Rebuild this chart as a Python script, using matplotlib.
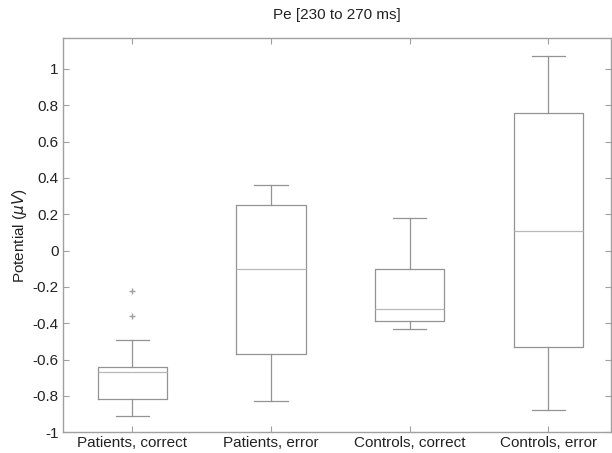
import matplotlib
matplotlib.use("Agg")
import matplotlib.pyplot as plt

categories = ["Patients, correct", "Patients, error", "Controls, correct", "Controls, error"]
whislo = [-0.91, -0.83, -0.43, -0.88]
q1 = [-0.82, -0.57, -0.39, -0.53]
med = [-0.67, -0.10, -0.32, 0.11]
q3 = [-0.64, 0.25, -0.10, 0.76]
whishi = [-0.49, 0.36, 0.18, 1.07]
fliers = [[-0.22, -0.36], [], [], []]
yticks = [-1, -0.8, -0.6, -0.4, -0.2, 0, 0.2, 0.4, 0.6, 0.8, 1]

plt.rcParams['font.family'] = ['Liberation Sans', 'DejaVu Sans']

fig = plt.figure(figsize=(6.12, 4.53), dpi=100)
ax = fig.add_axes([0.103, 0.046, 0.895, 0.870])

stats = []
for i, c in enumerate(categories):
    stats.append(dict(label=c, whislo=whislo[i], q1=q1[i], med=med[i], q3=q3[i],
                      whishi=whishi[i], fliers=fliers[i]))

lc = '#939393'
ax.bxp(stats, positions=[1, 2, 3, 4], widths=0.5, capwidths=0.24,
       boxprops=dict(color=lc, linewidth=0.9),
       whiskerprops=dict(color=lc, linewidth=0.9, linestyle='-'),
       capprops=dict(color=lc, linewidth=0.9),
       medianprops=dict(color='#b8b8b8', linewidth=0.9),
       flierprops=dict(marker='+', markeredgecolor='#a0a0a0', markersize=5, linestyle='none'))

ax.set_xlim(0.5, 4.45)
ax.set_ylim(-1, 1.17)
ax.set_yticks(yticks)
ax.set_yticklabels([f"{v:g}" for v in yticks])
ax.set_xticks([1, 2, 3, 4])
ax.set_xticklabels(categories)
for s in ax.spines.values():
    s.set_color('#a0a0a0')
    s.set_linewidth(1.0)
fs = 11
ax.tick_params(direction='in', top=True, right=True, colors='#a0a0a0', labelcolor='#222222',
               labelsize=fs, length=4, pad=3)
ax.set_title("Pe [230 to 270 ms]", fontsize=fs, color='#222222', pad=14)
ax.set_ylabel(r"Potential ($\mu V$)", fontsize=fs, color='#222222', labelpad=3)

fig.savefig("out.png", dpi=100)
